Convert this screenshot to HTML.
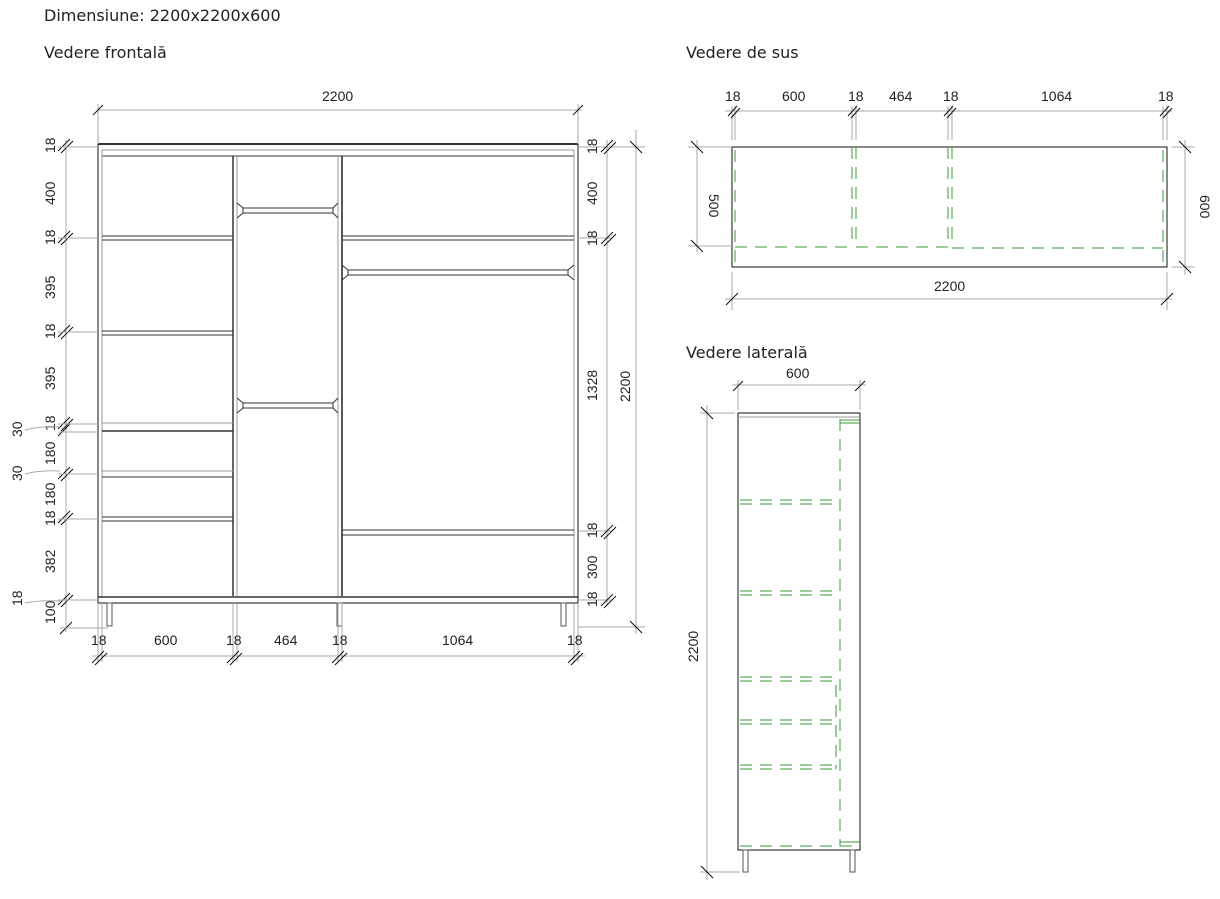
<!DOCTYPE html>
<html><head><meta charset="utf-8"><style>
html,body{margin:0;padding:0;background:#fff;}
svg{display:block;font-family:"Liberation Sans",sans-serif;}
.t{font-size:14px;fill:#222;}
.h{font-family:"DejaVu Sans","Liberation Sans",sans-serif;font-size:16px;fill:#222;}
.d{stroke:#aaa;stroke-width:1;fill:none;}
.k{stroke:#111;stroke-width:1;fill:none;}
.g{stroke:#3a9a3a;stroke-width:1;fill:none;stroke-dasharray:12,8;}
</style></head><body>
<svg width="1220" height="899" viewBox="0 0 1220 899">
<text class="h" x="44" y="21">Dimensiune:  2200x2200x600</text>
<text class="h" x="44" y="58">Vedere frontală</text>
<text class="h" x="686" y="58">Vedere de sus</text>
<text class="h" x="686" y="358">Vedere laterală</text>

<!-- FRONT VIEW -->
<g>
<rect x="98" y="144" width="480" height="459" class="k" stroke="#444"/>
<line x1="98" y1="144" x2="578" y2="144" stroke="#333" stroke-width="2"/>
<line x1="102" y1="150" x2="574" y2="150" stroke="#999"/>
<line x1="102" y1="156" x2="574" y2="156" stroke="#333"/>
<line x1="102" y1="150" x2="102" y2="597" stroke="#999"/>
<line x1="574" y1="150" x2="574" y2="597" stroke="#999"/>
<line x1="98" y1="597" x2="578" y2="597" stroke="#333" stroke-width="1.5"/>
<line x1="233" y1="156" x2="233" y2="596" stroke="#333" stroke-width="1.5"/>
<line x1="237" y1="156" x2="237" y2="596" stroke="#999"/>
<line x1="338" y1="156" x2="338" y2="596" stroke="#999"/>
<line x1="342" y1="156" x2="342" y2="596" stroke="#222" stroke-width="1.5"/>
<g stroke="#333">
<line x1="102" y1="236" x2="233" y2="236"/><line x1="102" y1="240" x2="233" y2="240"/>
<line x1="102" y1="331" x2="233" y2="331"/><line x1="102" y1="335" x2="233" y2="335"/>
<line x1="102" y1="423" x2="233" y2="423" stroke="#999"/><line x1="102" y1="431" x2="233" y2="431" stroke-width="1.5"/>
<line x1="102" y1="471" x2="233" y2="471" stroke="#999"/><line x1="102" y1="477" x2="233" y2="477"/>
<line x1="102" y1="517" x2="233" y2="517"/><line x1="102" y1="521" x2="233" y2="521"/>
<line x1="342" y1="236" x2="574" y2="236"/><line x1="342" y1="240" x2="574" y2="240"/>
<line x1="342" y1="530" x2="574" y2="530"/><line x1="342" y1="535" x2="574" y2="535"/>
</g>
<g stroke="#333" fill="none">
<rect x="243" y="208" width="90" height="5"/><path d="M237 203 L243 208 L243 213 L237 218 M338 203 L333 208 L333 213 L338 218"/>
<rect x="243" y="403" width="90" height="5"/><path d="M237 398 L243 403 L243 408 L237 413 M338 398 L333 403 L333 408 L338 413"/>
<rect x="348" y="270" width="220" height="5"/><path d="M342 265 L348 270 L348 275 L342 280 M574 265 L568 270 L568 275 L574 280"/>
</g>
<g stroke="#555" fill="none">
<rect x="107" y="603" width="5" height="23"/><rect x="337" y="603" width="5" height="23"/><rect x="561" y="603" width="5" height="23"/>
</g>
<line class="d" x1="98" y1="110" x2="582" y2="110"/>
<line class="d" x1="98" y1="104" x2="98" y2="144"/><line class="d" x1="578" y1="104" x2="578" y2="144"/>
<line class="k" x1="93" y1="115" x2="103" y2="105"/><line class="k" x1="573" y1="115" x2="583" y2="105"/>
<text class="t" x="322" y="101">2200</text>
<line class="d" x1="66" y1="140" x2="66" y2="632"/>
<g class="k">
<path d="M58 151 L70 139 M61 153 L73 141 M58 243 L70 231 M61 245 L73 233 M58 337 L70 325 M61 339 L73 327 M58 429 L70 417 M61 431 L73 419 M58 436 L70 424 M58 479 L70 467 M61 481 L73 469 M58 523 L70 511 M61 525 L73 513 M58 605 L70 593 M61 607 L73 595 M60 634 L72 622"/>
</g>
<g class="d"><path d="M58 147 L98 147 M58 238 L98 238 M58 332 L98 332 M58 424 L98 424 M58 432 L98 432 M58 474 L98 474 M58 519 L98 519 M58 600 L98 600 M60 628 L108 628"/></g>
<g class="t">
<text transform="translate(55,153) rotate(-90)">18</text>
<text transform="translate(55,205) rotate(-90)">400</text>
<text transform="translate(55,245) rotate(-90)">18</text>
<text transform="translate(55,299) rotate(-90)">395</text>
<text transform="translate(55,339) rotate(-90)">18</text>
<text transform="translate(55,390) rotate(-90)">395</text>
<text transform="translate(55,431) rotate(-90)">18</text>
<text transform="translate(55,465) rotate(-90)">180</text>
<text transform="translate(55,506) rotate(-90)">180</text>
<text transform="translate(55,526) rotate(-90)">18</text>
<text transform="translate(55,573) rotate(-90)">382</text>
<text transform="translate(55,624) rotate(-90)">100</text>
<text transform="translate(22,437) rotate(-90)">30</text>
<text transform="translate(22,481) rotate(-90)">30</text>
<text transform="translate(22,606) rotate(-90)">18</text>
</g>
<path class="d" d="M25 430 Q40 426 60 427 M25 474 Q40 470 60 471 M25 603 Q40 600 60 601"/>
<line class="d" x1="607" y1="140" x2="607" y2="606"/>
<line class="d" x1="636" y1="130" x2="636" y2="634"/>
<g class="d"><path d="M578 147 L645 147 M578 238 L612 238 M578 531 L612 531 M578 600 L612 600 M578 627 L645 627"/></g>
<g class="k"><path d="M601 152 L613 140 M604 154 L616 142 M601 244 L613 232 M604 246 L616 234 M601 537 L613 525 M604 539 L616 527 M601 606 L613 594 M604 608 L616 596 M630 141 L642 153 M630 621 L642 633"/></g>
<g class="t">
<text transform="translate(597,154) rotate(-90)">18</text>
<text transform="translate(597,205) rotate(-90)">400</text>
<text transform="translate(597,246) rotate(-90)">18</text>
<text transform="translate(597,401) rotate(-90)">1328</text>
<text transform="translate(597,538) rotate(-90)">18</text>
<text transform="translate(597,579) rotate(-90)">300</text>
<text transform="translate(597,607) rotate(-90)">18</text>
<text transform="translate(630,402) rotate(-90)">2200</text>
</g>
<line class="d" x1="92" y1="656" x2="585" y2="656"/>
<g class="d"><path d="M98 603 L98 662 M102 603 L102 662 M233 603 L233 662 M237 603 L237 662 M338 603 L338 662 M342 603 L342 662 M574 603 L574 662 M578 603 L578 662"/></g>
<g class="k"><path d="M92 663 L104 651 M95 665 L107 653 M227 663 L239 651 M230 665 L242 653 M332 663 L344 651 M335 665 L347 653 M568 663 L580 651 M571 665 L583 653"/></g>
<g class="t">
<text x="91" y="645">18</text><text x="154" y="645">600</text><text x="226" y="645">18</text><text x="274" y="645">464</text><text x="332" y="645">18</text><text x="442" y="645">1064</text><text x="567" y="645">18</text>
</g>
</g>

<!-- TOP VIEW -->
<g>
<rect x="732" y="147" width="435" height="120" class="k" stroke="#333"/>
<g class="g">
<line x1="735" y1="150" x2="735" y2="267"/>
<line x1="735" y1="247" x2="852" y2="247"/>
<line x1="852" y1="147" x2="852" y2="247"/><line x1="856" y1="147" x2="856" y2="247"/>
<line x1="856" y1="247" x2="948" y2="247"/>
<line x1="948" y1="147" x2="948" y2="247"/><line x1="952" y1="147" x2="952" y2="247"/>
<line x1="952" y1="248" x2="1163" y2="248"/>
<line x1="1163" y1="150" x2="1163" y2="267"/>
</g>
<line class="d" x1="725" y1="111" x2="1172" y2="111"/>
<g class="d"><path d="M732 106 L732 140 M735 106 L735 140 M852 106 L852 140 M856 106 L856 140 M948 106 L948 140 M952 106 L952 140 M1163 106 L1163 140 M1167 106 L1167 140"/></g>
<g class="k"><path d="M728 116 L737 106 M731 118 L740 108 M848 116 L857 106 M851 118 L860 108 M944 116 L953 106 M947 118 L956 108 M1160 116 L1169 106 M1163 118 L1172 108"/></g>
<g class="t"><text x="725" y="101">18</text><text x="782" y="101">600</text><text x="848" y="101">18</text><text x="889" y="101">464</text><text x="943" y="101">18</text><text x="1041" y="101">1064</text><text x="1158" y="101">18</text></g>
<line class="d" x1="697" y1="140" x2="697" y2="252"/>
<g class="d"><path d="M688 147 L732 147 M688 246 L732 246 M1172 147 L1195 147 M1172 267 L1195 267 M732 272 L732 310 M1167 272 L1167 310"/></g>
<line class="d" x1="1185" y1="140" x2="1185" y2="275"/>
<line class="d" x1="725" y1="299" x2="1172" y2="299"/>
<g class="k"><path d="M691 141 L703 153 M691 240 L703 252 M1179 141 L1191 153 M1179 261 L1191 273 M726 305 L738 293 M1161 305 L1173 293"/></g>
<text class="t" transform="translate(709,194) rotate(90)">500</text>
<text class="t" transform="translate(1200,195) rotate(90)">600</text>
<text class="t" x="934" y="291">2200</text>
</g>

<!-- SIDE VIEW -->
<g>
<rect x="738" y="413" width="122" height="437" class="k" stroke="#333"/>
<line x1="738" y1="417" x2="860" y2="417" stroke="#999"/>
<g class="g">
<line x1="840" y1="419" x2="840" y2="846"/>
<line x1="840" y1="420" x2="860" y2="420" stroke-dasharray="none"/><line x1="840" y1="423" x2="860" y2="423" stroke-dasharray="none"/>
<line x1="740" y1="500" x2="840" y2="500"/><line x1="740" y1="504" x2="840" y2="504"/>
<line x1="740" y1="591" x2="840" y2="591"/><line x1="740" y1="595" x2="840" y2="595"/>
<line x1="740" y1="677" x2="840" y2="677"/><line x1="740" y1="681" x2="840" y2="681"/>
<line x1="740" y1="720" x2="836" y2="720"/><line x1="740" y1="724" x2="836" y2="724"/>
<line x1="740" y1="765" x2="836" y2="765"/><line x1="740" y1="769" x2="836" y2="769"/>
<line x1="836" y1="685" x2="836" y2="769"/>
<line x1="740" y1="846" x2="860" y2="846"/>
<line x1="840" y1="842" x2="860" y2="842" stroke-dasharray="none"/>
</g>
<g stroke="#555" fill="none"><rect x="743" y="850" width="5" height="22"/><rect x="850" y="850" width="5" height="22"/></g>
<line class="d" x1="732" y1="385" x2="866" y2="385"/>
<g class="d"><path d="M738 380 L738 410 M860 380 L860 410 M700 413 L735 413 M700 872 L740 872"/></g>
<line class="d" x1="707" y1="405" x2="707" y2="880"/>
<g class="k"><path d="M733 391 L743 381 M855 391 L865 381 M701 407 L713 419 M701 866 L713 878"/></g>
<text class="t" x="786" y="378">600</text>
<text class="t" transform="translate(698,662) rotate(-90)">2200</text>
</g>
</svg>
</body></html>
